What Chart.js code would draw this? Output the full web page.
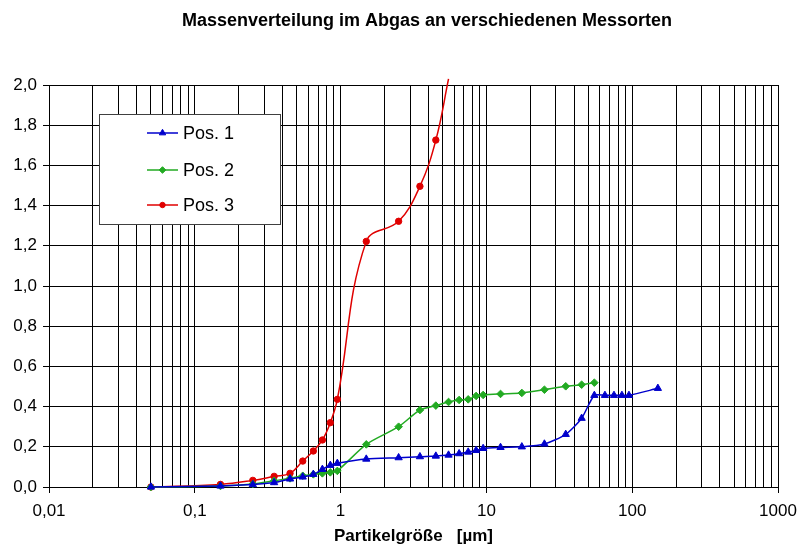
<!DOCTYPE html>
<html><head><meta charset="utf-8">
<script src="https://cdn.jsdelivr.net/npm/chart.js@4/dist/chart.umd.min.js"></script>
<style>html,body{margin:0;padding:0;background:#fff}#w{width:799px;height:547px;position:relative}</style>
</head><body><div id="w"><canvas id="c"></canvas></div>
<script>
// ---- data ----
const chartTitle = 'Massenverteilung im Abgas an verschiedenen Messorten';
const xAxisTitle = 'Partikelgröße   [µm]';
const seriesNames = ['Pos. 1', 'Pos. 2', 'Pos. 3'];
const sizes = [0.05, 0.15, 0.25, 0.35, 0.45, 0.55, 0.65, 0.75, 0.85, 0.95, 1.5, 2.5, 3.5, 4.5, 5.5, 6.5, 7.5, 8.5, 9.5, 12.5, 17.5, 25, 35, 45, 55, 65, 75, 85, 95, 150];
const pos1 = [0, 0.005, 0.012, 0.022, 0.04, 0.05, 0.063, 0.088, 0.108, 0.118, 0.139, 0.146, 0.151, 0.154, 0.159, 0.166, 0.174, 0.182, 0.192, 0.197, 0.2, 0.214, 0.262, 0.342, 0.456, 0.456, 0.456, 0.456, 0.456, 0.491];
const pos2 = [0, 0.005, 0.015, 0.031, 0.043, 0.056, 0.063, 0.068, 0.073, 0.08, 0.212, 0.30, 0.383, 0.405, 0.423, 0.433, 0.436, 0.453, 0.458, 0.463, 0.468, 0.484, 0.501, 0.509, 0.519];
const pos3 = [0, 0.013, 0.033, 0.053, 0.068, 0.129, 0.179, 0.234, 0.32, 0.436, 1.222, 1.322, 1.496, 1.726, 2.03];
const xDecades = [0.01, 0.1, 1, 10, 100, 1000];
const xDecadeLabels = ['0,01', '0,1', '1', '10', '100', '1000'];
const yTicks = [0, 0.2, 0.4, 0.6, 0.8, 1.0, 1.2, 1.4, 1.6, 1.8, 2.0];

// ---- helpers ----
const FONT = '"Liberation Sans", Arial, sans-serif';
const toPts = (vals) => vals.map((v, i) => ({x: sizes[i], y: v}));
const xTickValues = [];
xDecades.slice(0, -1).forEach(d => { for (let s = 1; s <= 9; s++) xTickValues.push(+(d * s).toPrecision(6)); });
xTickValues.push(xDecades[xDecades.length - 1]);
const isDecade = v => xDecades.some(d => Math.abs(d - v) < d * 1e-6);

const colors = ['#0000CC', '#22AA22', '#E00000'];
const styles = ['triangle', 'rectRot', 'circle'];
const radii = [4.2, 3.8, 3.2];

const datasets = [pos1, pos2, pos3].map((vals, i) => ({
  label: seriesNames[i],
  data: toPts(vals),
  borderColor: colors[i],
  backgroundColor: colors[i],
  borderWidth: 1.5,
  pointStyle: styles[i],
  pointRadius: vals.map((v, j) => (i === 2 && j === vals.length - 1) ? 0 : radii[i]),
  pointBorderWidth: 1,
  tension: i === 2 ? 0.4 : 0.25,
  clip: false,
  showLine: true,
  fill: false
}));

const overlay = {
  id: 'overlay',
  afterDraw(chart) {
    const ctx = chart.ctx;
    ctx.save();
    ctx.fillStyle = '#000';
    ctx.font = 'bold 18px ' + FONT;
    ctx.textAlign = 'center';
    ctx.textBaseline = 'middle';
    ctx.fillText(chartTitle, 427, 21);
    // legend box
    const bx = 99.5, by = 114.5, bw = 181, bh = 110;
    ctx.fillStyle = '#fff';
    ctx.fillRect(bx, by, bw, bh);
    ctx.strokeStyle = '#404040';
    ctx.lineWidth = 1;
    ctx.strokeRect(bx, by, bw, bh);
    const rowsY = [133, 170, 205];
    chart.data.datasets.forEach((ds, i) => {
      const y = rowsY[i];
      ctx.strokeStyle = ds.borderColor;
      ctx.lineWidth = 1.5;
      ctx.beginPath(); ctx.moveTo(147, y); ctx.lineTo(178, y); ctx.stroke();
      ctx.fillStyle = ds.backgroundColor;
      ctx.strokeStyle = ds.borderColor;
      ctx.lineWidth = 1;
      Chart.helpers.drawPoint(ctx, {pointStyle: ds.pointStyle, radius: radii[i] - 0.5, rotation: 0, borderWidth: 1}, 162.5, y);
      ctx.fillStyle = '#000';
      ctx.font = '18px ' + FONT;
      ctx.textAlign = 'left';
      ctx.fillText(ds.label, 183, y + 1);
    });
    ctx.restore();
  }
};

new Chart(document.getElementById('c'), {
  type: 'line',
  data: {datasets},
  plugins: [overlay],
  options: {
    responsive: true,
    maintainAspectRatio: false,
    animation: false,
    layout: {padding: {top: 85, right: 21, left: 0, bottom: 0}},
    plugins: {legend: {display: false}, title: {display: false}, tooltip: {enabled: false}},
    scales: {
      x: {
        type: 'logarithmic',
        min: 0.01, max: 1000,
        afterBuildTicks: (s) => { s.ticks = xTickValues.map(v => ({value: v, major: isDecade(v)})); },
        afterFit: (s) => { s.height = 60; s.paddingLeft = 0; s.paddingRight = 0; },
        ticks: {
          autoSkip: false, maxRotation: 0, minRotation: 0, padding: 8,
          color: '#000', font: {family: FONT, size: 17},
          callback: (v) => { const k = xDecades.findIndex(d => Math.abs(d - v) < d * 1e-6); return k >= 0 ? xDecadeLabels[k] : ''; }
        },
        grid: {
          color: '#000', lineWidth: 1, tickLength: 6,
          tickColor: (c) => (c.tick && isDecade(c.tick.value)) ? '#000' : 'rgba(0,0,0,0)'
        },
        border: {color: '#000', width: 1},
        title: {display: true, text: xAxisTitle, color: '#000', font: {family: FONT, size: 17, weight: 'bold'}, padding: {top: 0, bottom: 0}}
      },
      y: {
        type: 'linear',
        min: 0, max: 2,
        afterBuildTicks: (s) => { s.ticks = yTicks.map(v => ({value: v})); },
        afterFit: (s) => { s.width = 49; s.paddingTop = 0; s.paddingBottom = 0; },
        ticks: {
          padding: 6, color: '#000', font: {family: FONT, size: 17},
          callback: (v) => Number(v).toFixed(1).replace('.', ',')
        },
        grid: {color: '#000', lineWidth: 1, tickLength: 6, tickColor: '#000'},
        border: {color: '#000', width: 1}
      }
    }
  }
});
</script>
</body></html>
